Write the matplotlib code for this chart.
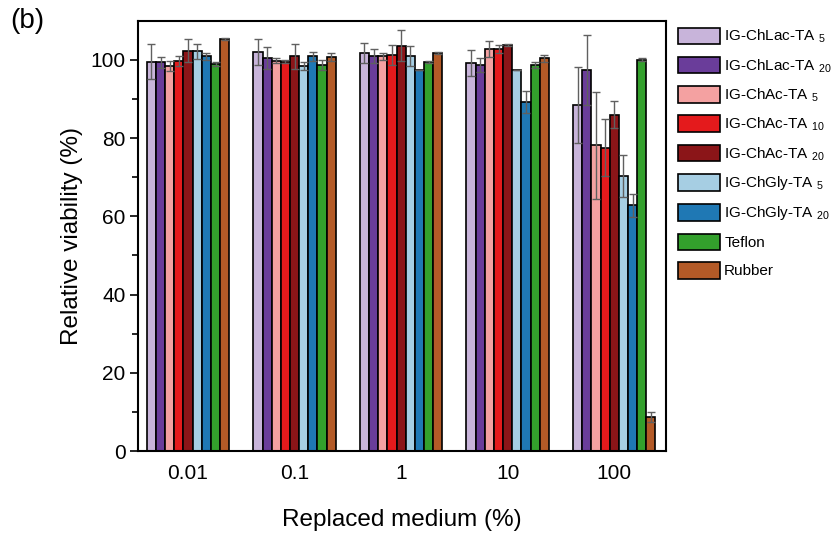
import numpy as np
import matplotlib
matplotlib.use("Agg")
import matplotlib.pyplot as plt

plt.rcParams['font.family'] = ['Liberation Sans', 'DejaVu Sans']
plt.rcParams['mathtext.fontset'] = 'custom'
plt.rcParams['mathtext.rm'] = 'Liberation Sans'
plt.rcParams['mathtext.it'] = 'Liberation Sans:italic'

groups = ["0.01", "0.1", "1", "10", "100"]
series = ["IG-ChLac-TA $_{5}$", "IG-ChLac-TA $_{20}$", "IG-ChAc-TA $_{5}$",
          "IG-ChAc-TA $_{10}$", "IG-ChAc-TA $_{20}$", "IG-ChGly-TA $_{5}$",
          "IG-ChGly-TA $_{20}$", "Teflon", "Rubber"]
colors = ["#c8b4da", "#6a3d9a", "#f4a1a1", "#e41a1c", "#8b1518",
          "#a6cee3", "#1f78b4", "#33a02c", "#b35a27"]

# rows = series, columns = groups
means = np.array([
    [99.6, 102.1, 101.8, 99.2, 88.5],
    [99.4, 100.5, 100.9, 98.7, 97.5],
    [98.5, 99.8, 100.9, 102.8, 78.2],
    [99.8, 99.6, 101.3, 102.8, 77.6],
    [102.4, 100.9, 103.7, 103.8, 86.0],
    [102.2, 98.5, 101.1, 97.4, 70.3],
    [100.9, 100.9, 97.5, 89.3, 62.8],
    [99.0, 98.8, 99.4, 98.7, 100.1],
    [105.4, 100.7, 101.8, 100.4, 8.6],
])
errs = np.array([
    [4.5, 3.3, 2.6, 3.3, 9.8],
    [1.4, 2.7, 1.8, 1.9, 8.9],
    [1.3, 0.6, 0.8, 2.1, 13.7],
    [1.3, 0.3, 2.6, 1.1, 7.3],
    [3.0, 3.2, 4.0, 0.3, 3.5],
    [1.9, 1.1, 2.6, 0.0, 5.3],
    [1.0, 1.2, 0.0, 2.8, 3.0],
    [0.5, 1.3, 0.3, 0.8, 0.3],
    [0.3, 1.0, 0.3, 0.9, 1.3],
])

fig = plt.figure(figsize=(8.31, 5.35), dpi=100)
ax = fig.add_axes([0.166, 0.157, 0.636, 0.804])

x = np.arange(len(groups))
w = 0.086
n = len(series)
for i in range(n):
    pos = x + (i - (n - 1) / 2) * w
    ax.bar(pos, means[i], width=w, color=colors[i], edgecolor='black',
           linewidth=1.2, label=series[i], zorder=2)
    ax.errorbar(pos, means[i], yerr=errs[i], fmt='none', ecolor='#606060',
                elinewidth=1.0, capsize=3, capthick=1.0, zorder=3)

ax.set_xlim(-0.47, 4.49)
ax.set_ylim(0, 110)
ax.set_xticks(x)
ax.set_xticklabels(groups)
ax.set_yticks(np.arange(0, 101, 20))
ax.set_yticks(np.arange(10, 101, 20), minor=True)
ax.tick_params(axis='x', length=0, pad=9, labelsize=15)
ax.tick_params(axis='y', which='major', direction='out', length=6, width=1.2,
               pad=3, labelsize=15)
ax.tick_params(axis='y', which='minor', direction='out', length=4, width=1.2)
for s in ax.spines.values():
    s.set_linewidth(1.5)

ax.set_xlabel("Replaced medium (%)", fontsize=17.5, labelpad=19)
ax.set_ylabel("Relative viability (%)", fontsize=17.5, labelpad=5)

fig.text(0.012, 0.985, "(b)", fontsize=20, va='top', ha='left')

fig.legend(loc='upper left', bbox_to_anchor=(0.808, 0.96), frameon=False,
           fontsize=11, handlelength=2.8, handleheight=1.3,
           labelspacing=0.75, handletextpad=0.25, borderaxespad=0)

fig.savefig("out.png", dpi=100)
